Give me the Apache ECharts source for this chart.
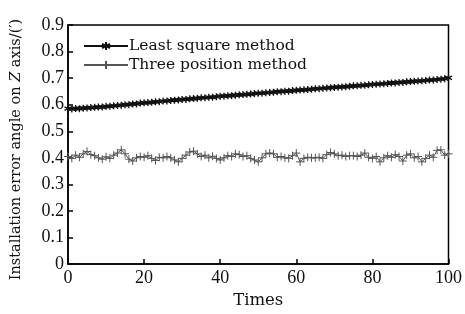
<!DOCTYPE html>
<html>
<head>
<meta charset="utf-8">
<script src="https://cdn.jsdelivr.net/npm/echarts@6/dist/echarts.min.js"></script>
<style>
  html, body { margin: 0; padding: 0; background: #fff; }
  #chart { width: 465px; height: 314px; }
</style>
</head>
<body>
<div id="chart"></div>
<script>
// x: measurement number 0..100
var times = [];
for (var i = 0; i <= 100; i++) times.push(i);

var leastSquare = [
  0.585, 0.584, 0.586, 0.585, 0.587, 0.588, 0.589, 0.590, 0.591, 0.591,
  0.594, 0.594, 0.596, 0.597, 0.598, 0.600, 0.600, 0.603, 0.603, 0.606,
  0.607, 0.608, 0.609, 0.611, 0.611, 0.614, 0.614, 0.616, 0.617, 0.618,
  0.620, 0.620, 0.622, 0.623, 0.624, 0.626, 0.626, 0.628, 0.628, 0.630,
  0.632, 0.632, 0.634, 0.634, 0.636, 0.637, 0.638, 0.639, 0.640, 0.642,
  0.643, 0.643, 0.645, 0.646, 0.647, 0.649, 0.649, 0.651, 0.651, 0.653,
  0.654, 0.655, 0.656, 0.657, 0.658, 0.660, 0.660, 0.662, 0.663, 0.664,
  0.665, 0.666, 0.667, 0.668, 0.669, 0.671, 0.671, 0.673, 0.673, 0.675,
  0.676, 0.677, 0.678, 0.679, 0.680, 0.682, 0.682, 0.684, 0.684, 0.686,
  0.687, 0.688, 0.689, 0.690, 0.691, 0.693, 0.693, 0.695, 0.696, 0.698,
  0.701
];

var threePosition = [
  0.405, 0.398, 0.410, 0.402, 0.415, 0.424, 0.412, 0.408, 0.400, 0.395,
  0.404, 0.398, 0.410, 0.418, 0.430, 0.415, 0.395, 0.388, 0.400, 0.405,
  0.402, 0.408, 0.398, 0.390, 0.402, 0.400, 0.405, 0.400, 0.392, 0.385,
  0.398, 0.410, 0.422, 0.425, 0.415, 0.405, 0.410, 0.400, 0.406, 0.398,
  0.392, 0.400, 0.408, 0.405, 0.415, 0.412, 0.405, 0.408, 0.398, 0.392,
  0.385, 0.400, 0.415, 0.418, 0.415, 0.402, 0.405, 0.400, 0.398, 0.408,
  0.418, 0.385, 0.398, 0.402, 0.400, 0.400, 0.402, 0.398, 0.412, 0.420,
  0.415, 0.408, 0.410, 0.405, 0.408, 0.408, 0.405, 0.410, 0.418, 0.402,
  0.398, 0.405, 0.385, 0.400, 0.408, 0.402, 0.412, 0.405, 0.388, 0.410,
  0.415, 0.400, 0.405, 0.385, 0.398, 0.410, 0.402, 0.428, 0.430, 0.410,
  0.415
];

var seriesNames = ['Least square method', 'Three position method'];

function pairs(vals) {
  return vals.map(function (v, k) { return [times[k], v]; });
}

var starPath = 'path://M0,-10L0,10M-8.7,-5L8.7,5M-8.7,5L8.7,-5';
var plusPath = 'path://M0,-10L0,10M-10,0L10,0';
var serif = 'Liberation Serif';
var wide = 'DejaVu Serif';

var chart = echarts.init(document.getElementById('chart'));
chart.setOption({
  animation: false,
  textStyle: { fontFamily: serif, color: '#000' },
  grid: {
    left: 68, right: 12, top: 25, bottom: 46,
    show: true, borderColor: '#000', borderWidth: 1.5
  },
  legend: {
    orient: 'vertical',
    left: 78, top: 33,
    itemWidth: 44, itemHeight: 10, itemGap: 3,
    textStyle: { fontFamily: wide, fontSize: 15.5, color: '#111', padding: [0, 0, 0, -4] },
    data: seriesNames
  },
  xAxis: {
    type: 'value', min: 0, max: 100, interval: 20,
    name: 'Times', nameLocation: 'middle', nameGap: 26,
    nameTextStyle: { fontFamily: wide, fontSize: 16.5, color: '#111' },
    axisLine: { lineStyle: { color: '#000', width: 1.5 } },
    axisTick: { inside: true, length: 5, lineStyle: { color: '#000', width: 1.5 } },
    axisLabel: { fontFamily: serif, fontSize: 18, color: '#111', margin: 5 },
    splitLine: { show: false }
  },
  yAxis: {
    type: 'value', min: 0, max: 0.9, interval: 0.1,
    name: '{n|Installation error angle on }{i|Z}{n| axis/(\u2032)}',
    nameLocation: 'middle', nameRotate: 90, nameGap: 44,
    nameTextStyle: {
      padding: [0, 0, 0, -10],
      rich: {
        n: { fontFamily: wide, fontSize: 14.5, color: '#111' },
        i: { fontFamily: wide, fontSize: 14.5, color: '#111', fontStyle: 'italic' }
      }
    },
    axisLine: { lineStyle: { color: '#000', width: 1.5 } },
    axisTick: { inside: true, length: 5, lineStyle: { color: '#000', width: 1.5 } },
    axisLabel: {
      fontFamily: serif, fontSize: 18, color: '#111', margin: 4,
      formatter: function (v) { return v === 0 ? '0' : v.toFixed(1); }
    },
    splitLine: { show: false }
  },
  series: [
    {
      name: seriesNames[0],
      type: 'line',
      data: pairs(leastSquare),
      symbol: starPath,
      symbolSize: 7,
      showAllSymbol: true,
      lineStyle: { color: '#111', width: 1.8 },
      itemStyle: { color: 'none', borderColor: '#111', borderWidth: 1.3 }
    },
    {
      name: seriesNames[1],
      type: 'line',
      data: pairs(threePosition),
      symbol: plusPath,
      symbolSize: 8,
      showAllSymbol: true,
      lineStyle: { color: '#555', width: 1 },
      itemStyle: { color: 'none', borderColor: '#555', borderWidth: 1 }
    }
  ]
});
</script>
</body>
</html>
